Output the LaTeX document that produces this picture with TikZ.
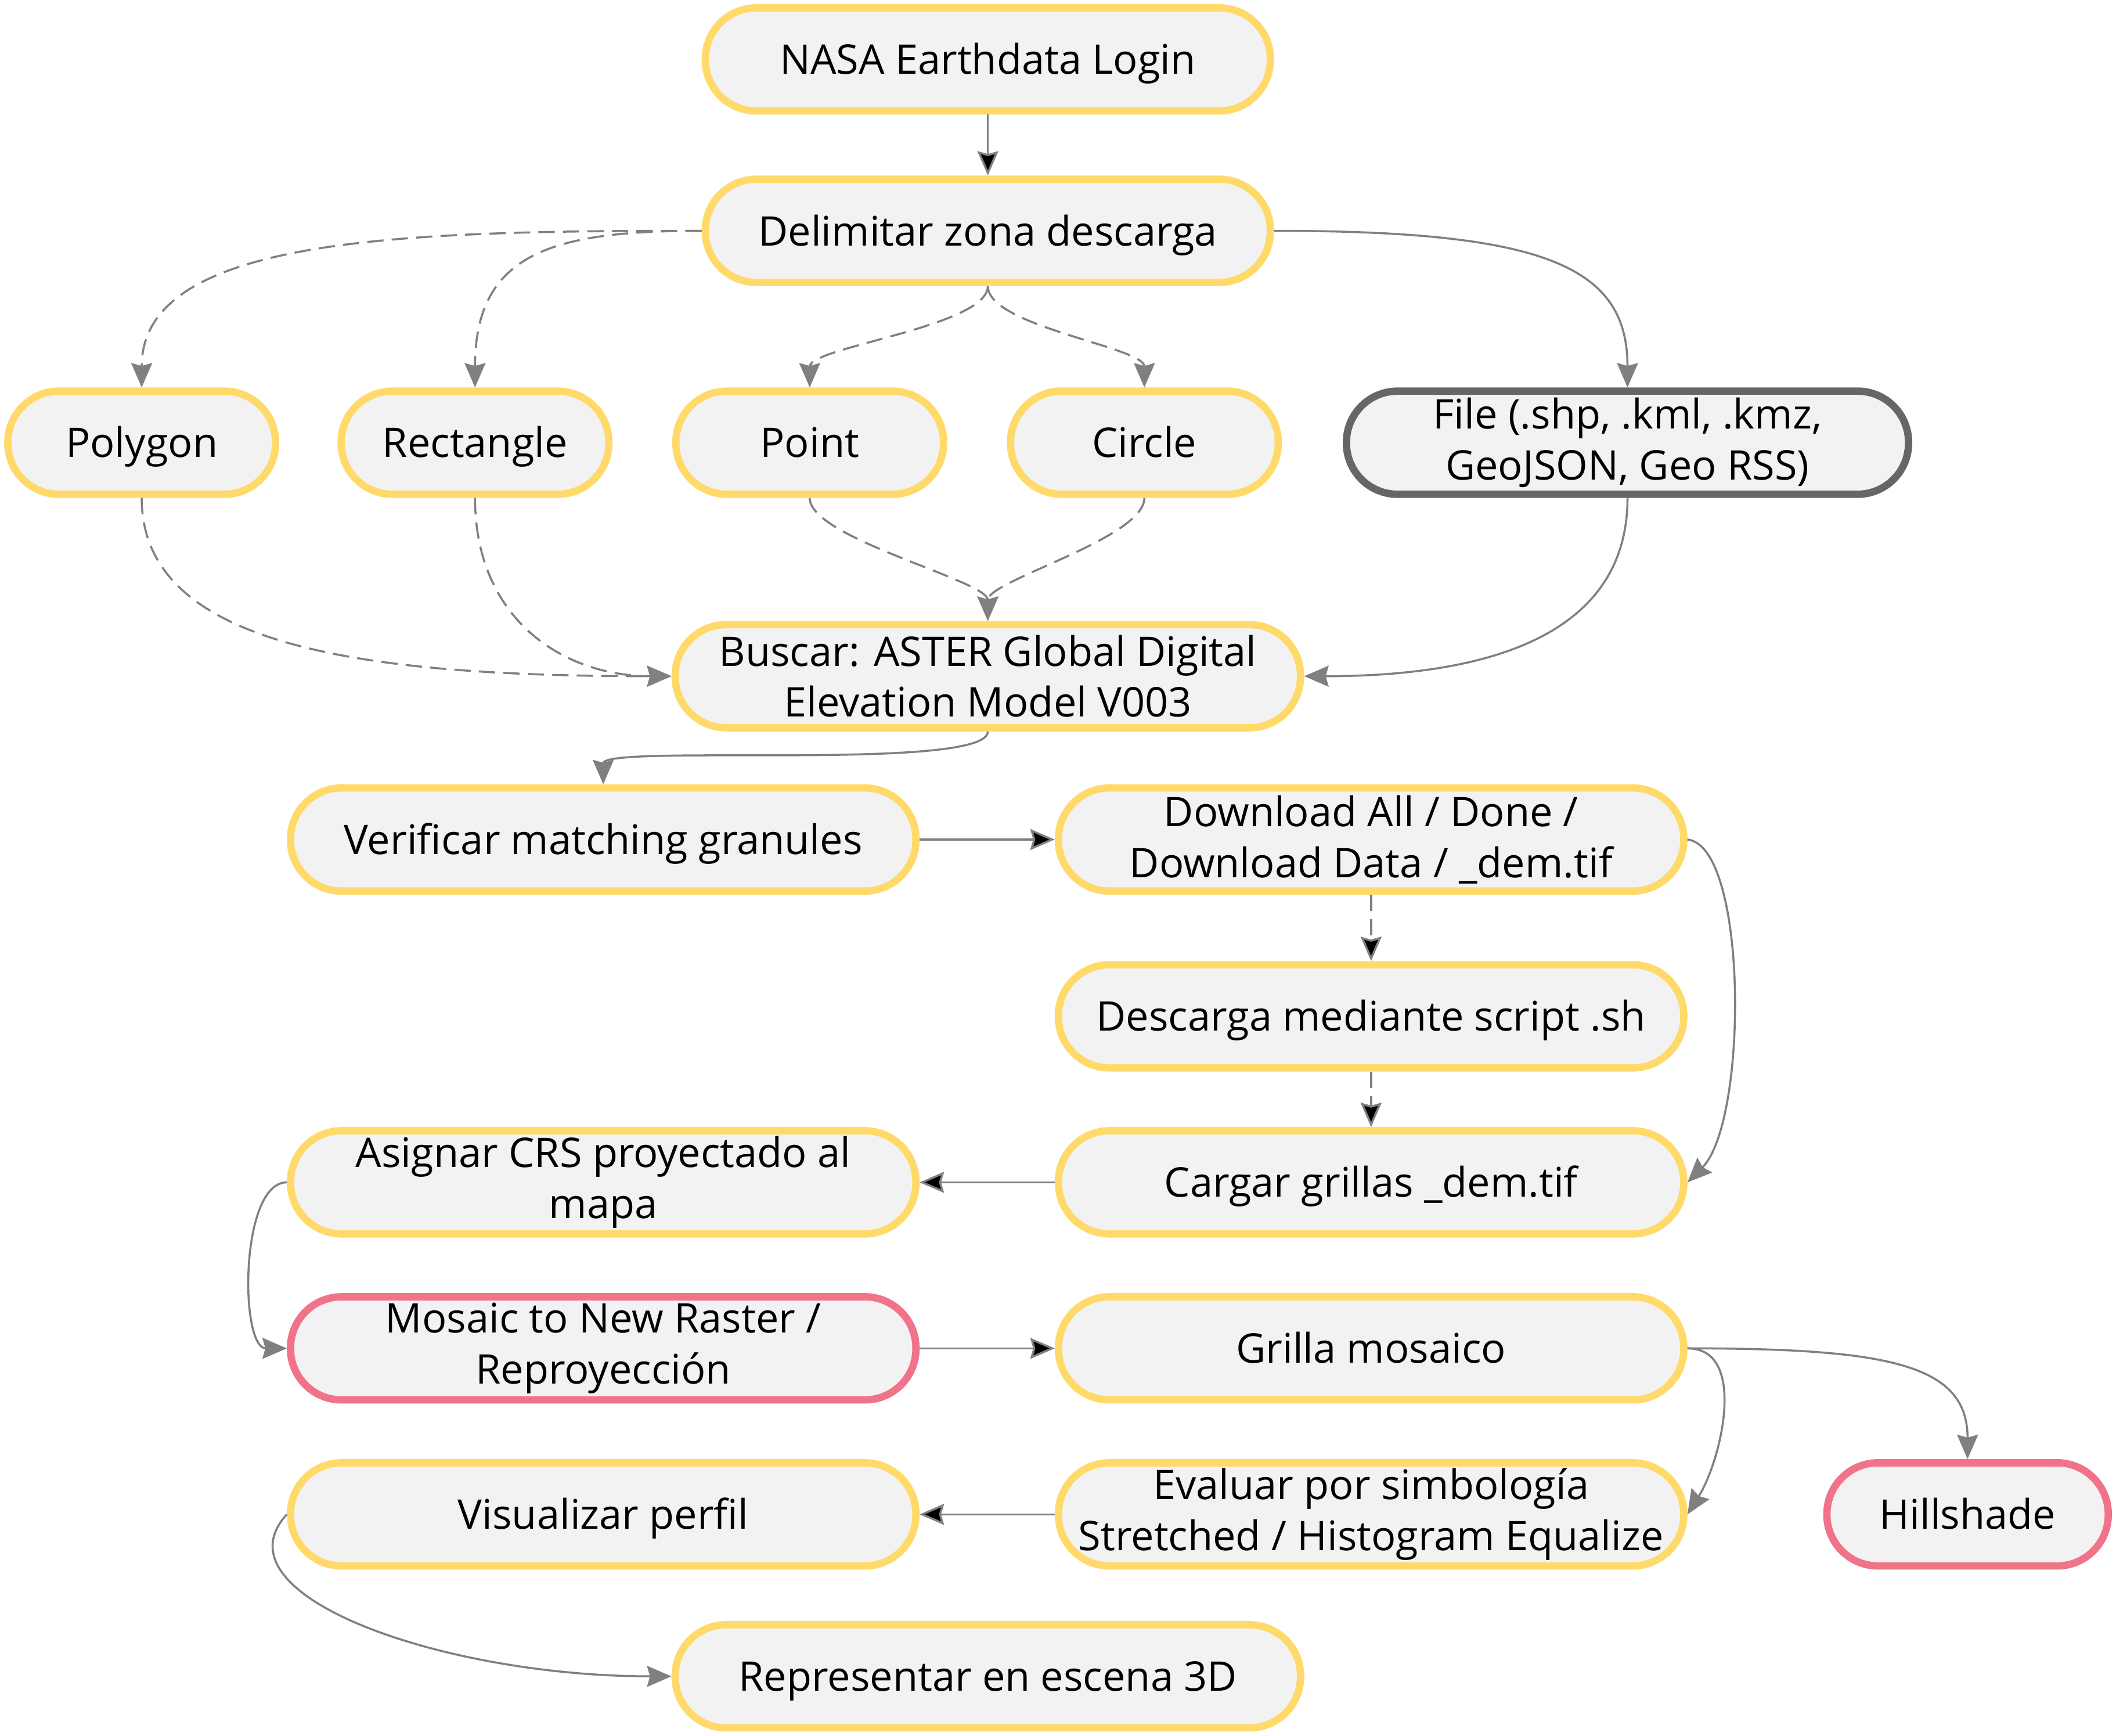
\documentclass[tikz,border=0pt]{standalone}
\usepackage{fontspec}
\setmainfont{Open Sans}
\usepackage{tikz}
\usetikzlibrary{positioning}
\usetikzlibrary{arrows.meta}

\definecolor{boxfill}{HTML}{F2F2F2}
\definecolor{boxyellow}{HTML}{FFDA6A}
\definecolor{boxpink}{HTML}{F07389}
\definecolor{boxgrey}{HTML}{666666}
\definecolor{linkgrey}{HTML}{808080}

\begin{document}
\begin{tikzpicture}
      [x=0.023246cm, y=-0.023246cm,
       every node/.style={font=\fontsize{20}{25}\selectfont},
       pill/.style={draw=boxyellow, fill=boxfill, line width=3.6pt,
                    rounded corners=0.88cm, minimum height=1.776cm,
                    align=center, inner sep=0pt},
       oneline/.style={text height=14.5pt, text depth=0pt},
       small/.style={pill, oneline, minimum width=4.61cm},
       mid/.style={pill, minimum width=9.73cm},
       wide/.style={pill, minimum width=10.77cm},
       link/.style={draw=linkgrey, line width=1pt,
                    -{Stealth[length=0.42cm,width=0.36cm,inset=0.05cm]}},
       dlink/.style={link, dash pattern=on 8pt off 4pt}]
    \useasboundingbox (0,0) rectangle (1568,1286);

    \node[mid, oneline]  (nasa)   at (732,44)  {NASA Earthdata Login};
    \node[mid, oneline]  (zona)   at (732,171) {Delimitar zona descarga};
    \node[small] (poly)  at (105,328) {Polygon};
    \node[small] (rect)  at (352,328) {Rectangle};
    \node[small] (point) at (600,328) {Point};
    \node[small] (circ)  at (848,328) {Circle};
    \node[mid, draw=boxgrey, minimum width=9.68cm] (file) at (1206,328)
          {File (.shp, .kml, .kmz,\\GeoJSON, Geo RSS)};
    \node[wide] (aster)  at (732,501) {Buscar: ASTER Global Digital\\Elevation Model V003};
    \node[wide, oneline] (verif)  at (447,622) {Verificar matching granules};
    \node[wide] (dlall)  at (1016,622) {Download All / Done /\\Download Data / \_dem.tif};
    \node[wide, oneline] (script) at (1016,753) {Descarga mediante script .sh};
    \node[wide, oneline] (cargar) at (1016,876) {Cargar grillas \_dem.tif};
    \node[wide] (crs)    at (447,876) {Asignar CRS proyectado al\\mapa};
    \node[wide, draw=boxpink] (mosaic) at (447,999) {Mosaic to New Raster /\\Reproyección};
    \node[wide, oneline] (grilla) at (1016,999) {Grilla mosaico};
    \node[wide] (evaluar) at (1016,1122) {Evaluar por simbología\\Stretched / Histogram Equalize};
    \node[small, draw=boxpink, minimum width=4.845cm] (hill) at (1458,1122) {Hillshade};
    \node[wide, oneline] (perfil) at (447,1122) {Visualizar perfil};
    \node[wide, oneline] (escena) at (732,1242) {Representar en escena 3D};

    \path [link] (nasa) edge (zona)
          (verif) edge (dlall)
          (cargar) edge (crs)
          (mosaic) edge (grilla)
          (evaluar) edge (perfil);
    \path [dlink] (dlall) edge (script)
          (script) edge (cargar);

    % area of interest options
    \draw [dlink] (zona.west) .. controls +(-220,0) and +(0,-112) .. (poly.north);
    \draw [dlink] (zona.west) .. controls +(-110,0) and +(0,-100) .. (rect.north);
    \draw [dlink] (zona.south) .. controls +(0,30) and +(0,-30) .. (point.north);
    \draw [dlink] (zona.south) .. controls +(0,30) and +(0,-30) .. (circ.north);
    \draw [link] (zona.east) .. controls +(200,0) and +(0,-90) .. (file.north);

    \draw [dlink] (poly.south) .. controls +(0,110) and +(-230,0) .. (aster.west);
    \draw [dlink] (rect.south) .. controls +(0,90) and +(-80,0) .. (aster.west);
    \draw [dlink] (point.south) .. controls +(0,30) and +(0,-30) .. (aster.north);
    \draw [dlink] (circ.south) .. controls +(0,30) and +(0,-30) .. (aster.north);
    \draw [link] (file.south) .. controls +(0,100) and +(140,0) .. (aster.east);

    % download and processing
    \draw [link] (aster.south) .. controls +(0,30) and +(0,-30) .. (verif.north);
    \draw [link] (dlall.east) .. controls +(45,5) and +(45,-45) .. (cargar.east);
    \draw [link] (crs.west) .. controls +(-35,0) and +(-35,0) .. (mosaic.west);
    \draw [link] (grilla.east) .. controls +(150,0) and +(0,-70) .. (hill.north);
    \draw [link] (grilla.east) .. controls +(45,0) and +(25,-40) .. (evaluar.east);
    \draw [link] (perfil.west) .. controls +(-55,60) and +(-170,0) .. (escena.west);
\end{tikzpicture}
\end{document}
